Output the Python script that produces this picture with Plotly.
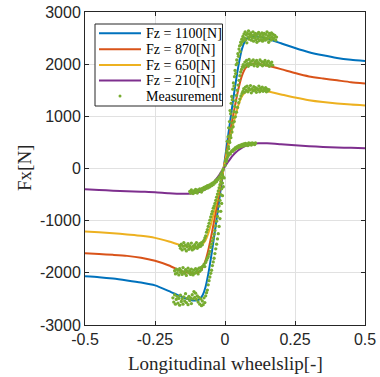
import plotly.graph_objects as go

# ---------------- data ----------------
SLIP = [-0.5, -0.45, -0.4, -0.35, -0.3, -0.25, -0.2, -0.15, -0.12, -0.1, -0.09, -0.08, -0.07, -0.06,
        -0.05, -0.04, -0.03, -0.02, -0.01,
        0, 0.01, 0.02, 0.03, 0.04, 0.05, 0.06, 0.07, 0.08, 0.09, 0.1, 0.12, 0.15, 0.2, 0.25, 0.3,
        0.35, 0.4, 0.45, 0.5]

FX_1100 = [-2067, -2085, -2110, -2145, -2185, -2240, -2350, -2470, -2525, -2525, -2500, -2430, -2280, -2030,
           -1710, -1350, -970, -580, -190,
           190, 580, 970, 1350, 1710, 2030, 2280, 2430, 2500, 2525, 2535, 2525, 2490, 2400, 2310, 2230,
           2170, 2120, 2085, 2060]
FX_870 = [-1626, -1638, -1655, -1675, -1710, -1770, -1860, -1980, -2005, -2000, -1970, -1900, -1770, -1570,
          -1320, -1040, -750, -450, -150,
          150, 450, 750, 1040, 1320, 1570, 1770, 1900, 1970, 2000, 2010, 2005, 1975, 1905, 1830, 1765,
          1725, 1690, 1655, 1630]
FX_650 = [-1209, -1222, -1240, -1265, -1290, -1330, -1400, -1480, -1505, -1505, -1490, -1450, -1380, -1250,
          -1070, -860, -620, -375, -125,
          125, 375, 620, 860, 1070, 1250, 1380, 1450, 1490, 1505, 1512, 1505, 1480, 1420, 1360, 1310,
          1275, 1248, 1225, 1210]
FX_210 = [-397, -410, -425, -435, -445, -455, -475, -485, -480, -462, -445, -425, -395, -360,
          -315, -260, -195, -120, -40,
          40, 120, 195, 260, 315, 360, 395, 425, 445, 462, 473, 482, 482, 465, 445, 428,
          414, 404, 396, 390]

CURVE_NAMES = ["Fz = 1100[N]", "Fz = 870[N]", "Fz = 650[N]", "Fz = 210[N]"]
MEAS_NAME = "Measurement"
X_TITLE = "Longitudinal wheelslip[-]"
Y_TITLE = "Fx[N]"

# measurement points (slip, Fx)
MEAS_1100 = [(0.002, 150), (0.006, 330), (0.008, 520), (0.011, 610), (0.013, 780), (0.016, 900), (0.018, 1110),
             (0.020, 1050), (0.022, 1250), (0.024, 1380), (0.026, 1320), (0.028, 1520), (0.030, 1640),
             (0.032, 1580), (0.034, 1760), (0.036, 1880), (0.038, 1820), (0.040, 1990), (0.042, 2080),
             (0.044, 2020), (0.046, 2200), (0.048, 2150), (0.050, 2290), (0.052, 2350), (0.054, 2240),
             (0.056, 2420), (0.058, 2380), (0.060, 2480), (0.062, 2430),
             (0.064, 2530), (0.066, 2450), (0.068, 2580), (0.070, 2500), (0.072, 2620), (0.074, 2470),
             (0.076, 2560), (0.078, 2410), (0.080, 2590), (0.082, 2520), (0.084, 2640), (0.086, 2480),
             (0.088, 2570), (0.090, 2530), (0.092, 2600), (0.094, 2460), (0.096, 2550), (0.098, 2500),
             (0.100, 2620), (0.102, 2440), (0.104, 2560), (0.106, 2510), (0.108, 2590), (0.110, 2470),
             (0.112, 2540), (0.114, 2420), (0.116, 2580), (0.118, 2490), (0.120, 2610), (0.122, 2450),
             (0.124, 2530), (0.126, 2570), (0.128, 2470), (0.130, 2520), (0.132, 2600), (0.134, 2440),
             (0.136, 2550), (0.138, 2480), (0.140, 2590), (0.142, 2510), (0.144, 2460), (0.146, 2570),
             (0.148, 2500), (0.150, 2620), (0.152, 2480), (0.154, 2540), (0.156, 2420), (0.158, 2590),
             (0.160, 2510), (0.162, 2560), (0.164, 2460), (0.166, 2600), (0.168, 2520), (0.170, 2480),
             (0.172, 2570), (0.175, 2500), (0.178, 2550), (0.181, 2460), (0.184, 2520),
             (-0.186, -2480), (-0.183, -2560), (-0.180, -2420), (-0.177, -2600), (-0.174, -2510),
             (-0.171, -2450), (-0.168, -2580), (-0.165, -2490), (-0.162, -2620), (-0.159, -2430),
             (-0.156, -2550), (-0.153, -2500), (-0.150, -2600), (-0.147, -2460), (-0.144, -2540),
             (-0.141, -2400), (-0.138, -2570), (-0.135, -2490), (-0.132, -2610), (-0.129, -2450),
             (-0.126, -2530), (-0.123, -2480), (-0.120, -2590), (-0.117, -2420), (-0.114, -2500),
             (-0.111, -2360), (-0.108, -2470), (-0.105, -2390), (-0.102, -2510), (-0.099, -2440),
             (-0.096, -2560), (-0.093, -2470), (-0.090, -2600), (-0.087, -2500), (-0.084, -2630),
             (-0.081, -2540), (-0.078, -2610), (-0.075, -2480), (-0.072, -2570), (-0.069, -2440),
             (-0.066, -2380), (-0.063, -2330), (-0.060, -2230), (-0.057, -2150), (-0.054, -2080),
             (-0.051, -2010), (-0.048, -1950), (-0.045, -1860), (-0.042, -1790), (-0.039, -1720),
             (-0.036, -1630), (-0.033, -1540), (-0.030, -1450), (-0.027, -1350), (-0.024, -1250),
             (-0.021, -1110), (-0.018, -960), (-0.015, -820), (-0.012, -670), (-0.009, -520),
             (-0.006, -350), (-0.003, -180)]

MEAS_870 = [(0.004, 140), (0.008, 300), (0.012, 420), (0.015, 530), (0.019, 640), (0.022, 760), (0.026, 870),
            (0.029, 980), (0.032, 1090), (0.035, 1190), (0.038, 1300), (0.041, 1400), (0.044, 1500),
            (0.047, 1600), (0.050, 1690), (0.053, 1780), (0.056, 1850), (0.059, 1900), (0.062, 1950),
            (0.065, 1990), (0.068, 1940), (0.071, 2040), (0.074, 1980), (0.077, 2070), (0.080, 2010),
            (0.083, 1960), (0.086, 2090), (0.089, 2030), (0.092, 1990), (0.095, 2060), (0.098, 2000),
            (0.101, 2080), (0.104, 1970), (0.107, 2040), (0.110, 2010), (0.113, 2070), (0.116, 1960),
            (0.119, 2030), (0.122, 2000), (0.125, 2080), (0.128, 1990), (0.131, 2050), (0.134, 1970),
            (0.137, 2040), (0.140, 2010), (0.143, 2070), (0.146, 1980), (0.149, 2030), (0.152, 1990),
            (0.155, 2060), (0.158, 1960), (0.161, 2020), (0.164, 1990), (0.167, 2040), (0.170, 1980),
            (-0.180, -1960), (-0.177, -2020), (-0.174, -1930), (-0.171, -2000), (-0.168, -1950),
            (-0.165, -2040), (-0.162, -1920), (-0.159, -1990), (-0.156, -1960), (-0.153, -2030),
            (-0.150, -1900), (-0.147, -1980), (-0.144, -2010), (-0.141, -1940), (-0.138, -2050),
            (-0.135, -1970), (-0.132, -1910), (-0.129, -2000), (-0.126, -1960), (-0.123, -2030),
            (-0.120, -1930), (-0.117, -1990), (-0.114, -2040), (-0.111, -1950), (-0.108, -2010),
            (-0.105, -1920), (-0.102, -1980), (-0.099, -1940), (-0.096, -2020), (-0.093, -1910),
            (-0.090, -1970), (-0.087, -1900), (-0.084, -1940), (-0.081, -1880),
            (-0.078, -1870), (-0.075, -1840), (-0.072, -1880), (-0.069, -1800), (-0.066, -1760),
            (-0.063, -1720), (-0.060, -1690), (-0.057, -1640), (-0.054, -1590), (-0.051, -1510),
            (-0.048, -1450), (-0.045, -1390), (-0.042, -1330), (-0.039, -1260), (-0.036, -1190),
            (-0.033, -1100), (-0.030, -1010), (-0.027, -920), (-0.024, -820), (-0.021, -720),
            (-0.018, -610), (-0.015, -500), (-0.012, -390), (-0.009, -280), (-0.006, -170)]

MEAS_650 = [(0.005, 170), (0.009, 290), (0.013, 380), (0.017, 500), (0.021, 590), (0.025, 700), (0.029, 800),
            (0.033, 900), (0.037, 990), (0.041, 1080), (0.045, 1170), (0.049, 1260), (0.053, 1330),
            (0.057, 1390), (0.061, 1440),
            (0.064, 1480), (0.067, 1530), (0.070, 1460), (0.073, 1560), (0.076, 1500), (0.079, 1580),
            (0.082, 1470), (0.085, 1540), (0.088, 1510), (0.091, 1590), (0.094, 1450), (0.097, 1530),
            (0.100, 1490), (0.103, 1570), (0.106, 1500), (0.109, 1550), (0.112, 1460), (0.115, 1530),
            (0.118, 1510), (0.121, 1580), (0.124, 1470), (0.127, 1540), (0.130, 1500), (0.133, 1560),
            (0.136, 1480), (0.139, 1530), (0.142, 1500), (0.145, 1550), (0.148, 1470), (0.151, 1520),
            (0.154, 1490), (0.157, 1510),
            (-0.162, -1480), (-0.159, -1530), (-0.156, -1450), (-0.153, -1560), (-0.150, -1490),
            (-0.147, -1420), (-0.144, -1540), (-0.141, -1470), (-0.138, -1580), (-0.135, -1500),
            (-0.132, -1440), (-0.129, -1550), (-0.126, -1480), (-0.123, -1520), (-0.120, -1430),
            (-0.117, -1560), (-0.114, -1490), (-0.111, -1540), (-0.108, -1460), (-0.105, -1510),
            (-0.102, -1420), (-0.099, -1530), (-0.096, -1470), (-0.093, -1500), (-0.090, -1440),
            (-0.087, -1490), (-0.084, -1420), (-0.081, -1460), (-0.078, -1400),
            (-0.075, -1380), (-0.072, -1330), (-0.069, -1290), (-0.066, -1220), (-0.063, -1170),
            (-0.060, -1110), (-0.057, -1050), (-0.054, -990), (-0.051, -930), (-0.048, -870),
            (-0.045, -820), (-0.042, -760), (-0.039, -720), (-0.036, -670), (-0.033, -610),
            (-0.030, -550), (-0.027, -490), (-0.024, -430), (-0.021, -370), (-0.018, -310),
            (-0.015, -250), (-0.012, -190), (-0.009, -130)]

MEAS_210 = [(0.001, 60), (0.004, 130), (0.007, 190), (0.010, 230), (0.013, 260), (0.016, 290), (0.019, 280),
            (0.022, 320), (0.025, 340), (0.028, 330), (0.031, 370), (0.034, 360), (0.037, 400), (0.040, 380),
            (0.043, 420), (0.046, 400), (0.049, 440), (0.052, 410), (0.055, 450), (0.058, 420), (0.061, 460),
            (0.064, 430), (0.067, 470), (0.070, 440), (0.073, 480), (0.076, 450), (0.079, 470), (0.082, 440),
            (0.085, 490), (0.088, 460), (0.091, 480), (0.094, 450), (0.097, 490), (0.100, 470), (0.103, 480),
            (0.106, 460), (0.109, 490),
            (-0.126, -440), (-0.123, -470), (-0.120, -410), (-0.117, -450), (-0.114, -480), (-0.111, -430),
            (-0.108, -460), (-0.105, -400), (-0.102, -440), (-0.099, -470), (-0.096, -410), (-0.093, -430),
            (-0.090, -390), (-0.087, -420), (-0.084, -450), (-0.081, -380), (-0.078, -410), (-0.075, -360),
            (-0.072, -400), (-0.069, -350), (-0.066, -380), (-0.063, -330), (-0.060, -370), (-0.057, -320),
            (-0.054, -350), (-0.051, -300), (-0.048, -330), (-0.045, -280), (-0.042, -310), (-0.039, -260),
            (-0.036, -280), (-0.033, -230), (-0.030, -250), (-0.027, -200), (-0.024, -210), (-0.021, -160),
            (-0.018, -170), (-0.015, -110), (-0.012, -90), (-0.009, -40), (-0.006, -10)]

X_TICKS = [-0.5, -0.25, 0, 0.25, 0.5]
X_TICK_TEXT = ["-0.5", "-0.25", "0", "0.25", "0.5"]
Y_TICKS = [-3000, -2000, -1000, 0, 1000, 2000, 3000]
Y_TICK_TEXT = ["-3000", "-2000", "-1000", "0", "1000", "2000", "3000"]

# ---------------- styling ----------------
COLORS = ["#0072BD", "#D95319", "#EDB120", "#7E2F8E"]
MEAS_COLOR = "#77AC30"
AX_COLOR = "#262626"
SANS = "Liberation Sans, Arial, sans-serif"
SERIF = "Liberation Serif, Times New Roman, serif"

fig = go.Figure()
for name, fx, col in zip(CURVE_NAMES, [FX_1100, FX_870, FX_650, FX_210], COLORS):
    fig.add_trace(go.Scatter(x=SLIP, y=fx, mode="lines", name=name,
                             line=dict(color=col, width=2, shape="spline", smoothing=0.6),
                             showlegend=False))

meas = MEAS_1100 + MEAS_870 + MEAS_650 + MEAS_210
fig.add_trace(go.Scatter(x=[p[0] for p in meas], y=[p[1] for p in meas], mode="markers",
                         name=MEAS_NAME, marker=dict(color=MEAS_COLOR, size=3.3, line=dict(width=0)),
                         showlegend=False))

# ---------------- custom legend and titles (paper coordinates) ----------------
FIG_W, FIG_H = 380, 377
L, R, T, B = 85, 365, 12, 325
W, H = R - L, B - T


def px(x):
    return (x - L) / W


def py(y):
    return (B - y) / H


shapes = [dict(type="rect", xref="paper", yref="paper", x0=px(95), x1=px(222.5), y0=py(106), y1=py(24),
               line=dict(color=AX_COLOR, width=1), fillcolor="white", layer="above")]
annotations = []
rows = [33.3, 49.3, 65, 80.5, 96]
for i, (name, col) in enumerate(zip(CURVE_NAMES, COLORS)):
    shapes.append(dict(type="line", xref="paper", yref="paper", x0=px(99), x1=px(141),
                       y0=py(rows[i]), y1=py(rows[i]), line=dict(color=col, width=2), layer="above"))
    annotations.append(dict(xref="paper", yref="paper", x=px(144), y=py(rows[i]), text=name,
                            showarrow=False, xanchor="left", yanchor="middle",
                            font=dict(family=SERIF, size=14, color="black")))
shapes.append(dict(type="circle", xref="paper", yref="paper", x0=px(118.5), x1=px(121.5),
                   y0=py(97.5), y1=py(94.5), fillcolor=MEAS_COLOR, line=dict(width=0), layer="above"))
annotations.append(dict(xref="paper", yref="paper", x=px(144), y=py(rows[4]), text=MEAS_NAME,
                        showarrow=False, xanchor="left", yanchor="middle",
                        font=dict(family=SERIF, size=14, color="black")))

# axis titles
annotations.append(dict(xref="paper", yref="paper", x=px(225), y=py(363), text=X_TITLE, showarrow=False,
                        xanchor="center", yanchor="middle",
                        font=dict(family=SERIF, size=19, color=AX_COLOR)))
annotations.append(dict(xref="paper", yref="paper", x=px(24), y=py(168), text=Y_TITLE, showarrow=False,
                        xanchor="center", yanchor="middle", textangle=-90,
                        font=dict(family=SERIF, size=19, color=AX_COLOR)))

axis_common = dict(showgrid=True, gridcolor="#E1E1E1", gridwidth=1, zeroline=False,
                   showline=True, linecolor=AX_COLOR, linewidth=1, mirror="ticks",
                   ticks="inside", ticklen=4, tickcolor=AX_COLOR, tickwidth=1, automargin=False,
                   tickfont=dict(family=SANS, size=16, color=AX_COLOR))

fig.update_layout(
    width=FIG_W, height=FIG_H,
    margin=dict(l=L, r=FIG_W - R, t=T, b=FIG_H - B, autoexpand=False),
    paper_bgcolor="white", plot_bgcolor="white",
    showlegend=False, hovermode=False,
    shapes=shapes, annotations=annotations,
    xaxis=dict(range=[-0.5, 0.5], tickvals=X_TICKS, ticktext=X_TICK_TEXT, **axis_common),
    yaxis=dict(range=[-3000, 3000], tickvals=Y_TICKS, ticktext=Y_TICK_TEXT, **axis_common),
)

fig.write_html("out.html", config={"displayModeBar": False},
               post_script="document.body.style.margin='0';document.body.style.overflow='hidden';")
